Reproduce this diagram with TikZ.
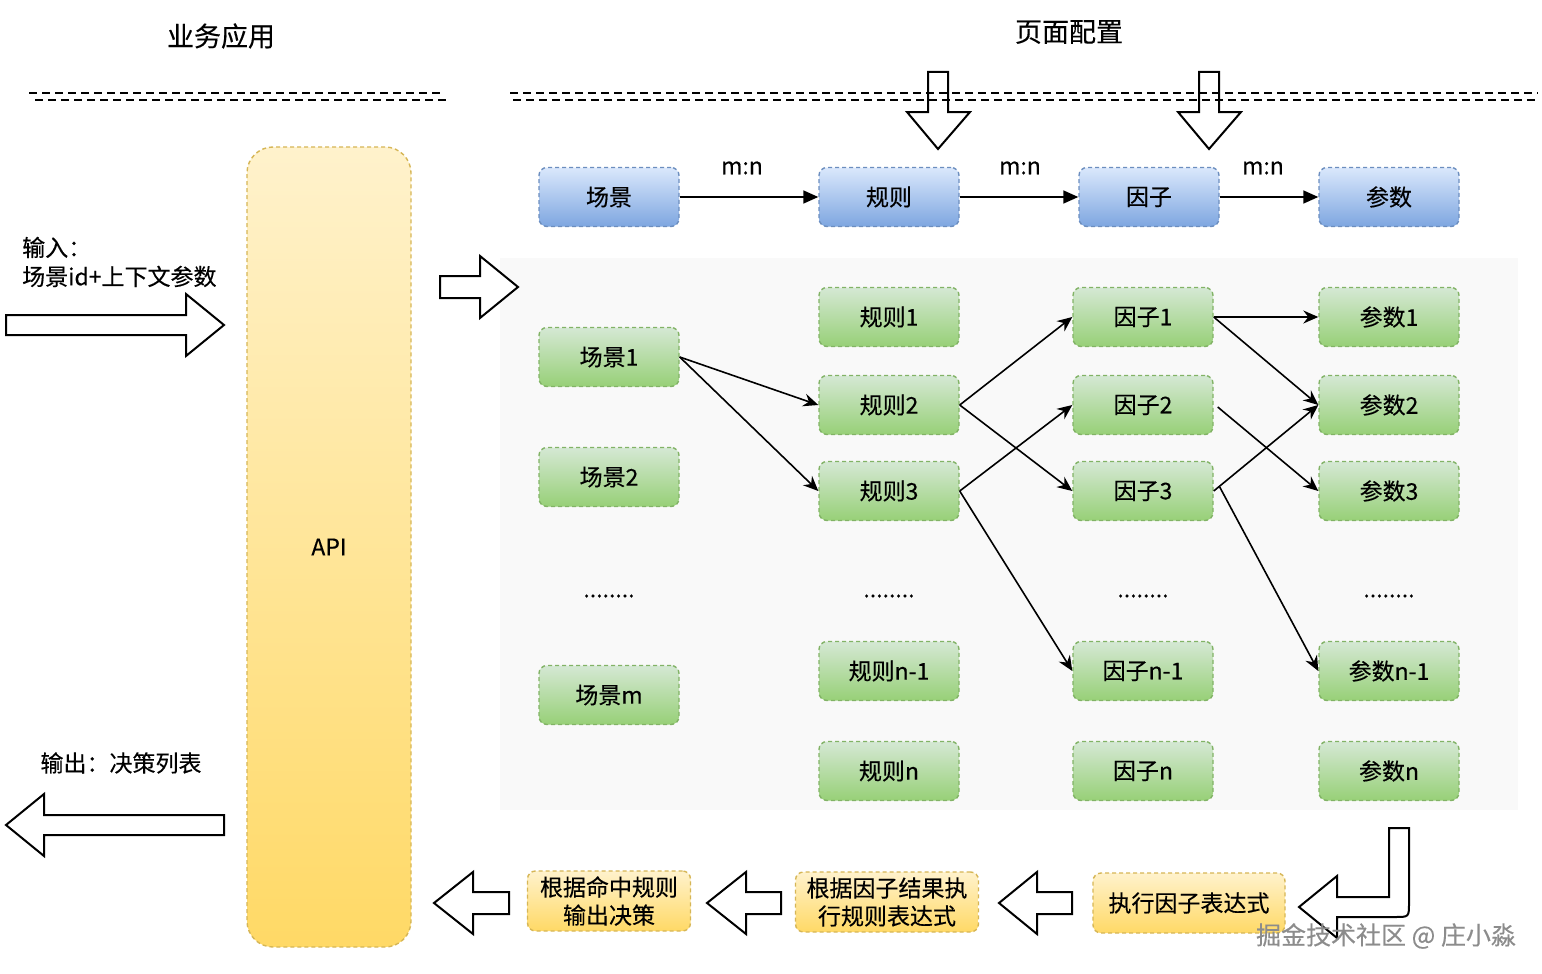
\documentclass[tikz,border=0pt]{standalone}
\usepackage{fontspec}
\setmainfont{Noto Sans CJK SC}[FakeBold=0.3]
\usetikzlibrary{arrows.meta}
\definecolor{bluetop}{HTML}{DAE8FC}
\definecolor{bluebot}{HTML}{7EA6E0}
\definecolor{blueline}{HTML}{6C8EBF}
\definecolor{greentop}{HTML}{D5E8D4}
\definecolor{greenbot}{HTML}{97D077}
\definecolor{greenline}{HTML}{82B366}
\definecolor{yeltop}{HTML}{FFF2CC}
\definecolor{yelbot}{HTML}{FFD966}
\definecolor{yelline}{HTML}{D6B656}
\definecolor{bgpanel}{HTML}{F9F9F9}
\definecolor{wmark}{HTML}{8C8C8C}
\tikzset{
  box/.style={draw, dash pattern=on 4pt off 3pt, line width=1.4pt, rounded corners=8pt,
    minimum width=140pt, minimum height=59pt, inner sep=0pt,
    font=\fontsize{23}{28}\selectfont, align=center},
  bluebox/.style={box, draw=blueline, top color=bluetop, bottom color=bluebot},
  greenbox/.style={box, draw=greenline, top color=greentop, bottom color=greenbot},
  yelbox/.style={box, draw=yelline, top color=yeltop, bottom color=yelbot},
  txt/.style={font=\fontsize{23}{29}\selectfont, inner sep=0pt},
  conn/.style={line width=1.6pt, -{Stealth[length=15pt,width=13pt,inset=5pt]}},
  flow/.style={line width=1.6pt, -{Triangle[length=15pt,width=13pt]}},
  blockarrow/.style={draw=black, line width=2pt, line join=miter},
  sepline/.style={draw=black, line width=1.8pt, dash pattern=on 8pt off 5pt}
}
\begin{document}
\begin{tikzpicture}[x=1pt,y=-1pt]
\useasboundingbox (0,0) rectangle (1542,974);
\fill[white] (0,0) rectangle (1542,974);
% panel
\fill[bgpanel] (500,258) rectangle (1518,810);
% headings
\node[font=\fontsize{27}{32}\selectfont, inner sep=0pt] (t1) at (221,36) {业务应用};
\node[font=\fontsize{27}{32}\selectfont, inner sep=0pt] (t2) at (1069,32) {页面配置};
% separators
\draw[sepline] (29,93) -- (444,93);
\draw[sepline] (35,100) -- (448,100);
\draw[sepline] (510,93) -- (1538,93);
\draw[sepline] (513,100) -- (1538,100);
% down block arrows
\draw[blockarrow] (928,72) -- (948,72) -- (948,112) -- (970,112) -- (938,149) -- (907,112) -- (928,112) -- cycle;
\draw[blockarrow] (1199,72) -- (1219,72) -- (1219,112) -- (1241,112) -- (1209,149) -- (1178,112) -- (1199,112) -- cycle;
% API
\node[yelbox, minimum width=164pt, minimum height=800pt, rounded corners=26pt] (api) at (329,547) {API};
% input / output
\node[txt, align=left, anchor=west] (inlbl) at (22,262) {输入：\\场景id+上下文参数};
\draw[blockarrow, fill=white] (6,315) -- (186,315) -- (186,294) -- (224,325) -- (186,356) -- (186,335) -- (6,335) -- cycle;
\node[txt] (outlbl) at (121,763) {输出：决策列表};
\draw[blockarrow, fill=white] (224,815) -- (44,815) -- (44,794) -- (6,825) -- (44,856) -- (44,835) -- (224,835) -- cycle;
% small right arrow
\draw[blockarrow, fill=white] (440,276) -- (480,276) -- (480,256) -- (518,287) -- (480,318) -- (480,298) -- (440,298) -- cycle;
% top row
\node[bluebox] (sc) at (609,197) {场景};
\node[bluebox] (ru) at (889,197) {规则};
\node[bluebox] (fa) at (1149,197) {因子};
\node[bluebox] (pa) at (1389,197) {参数};
\draw[flow] (sc.east) -- (ru.west);
\draw[flow] (ru.east) -- (fa.west);
\draw[flow] (fa.east) -- (pa.west);
\node[txt] (mn1) at (742,168) {m:n};
\node[txt] (mn2) at (1020,168) {m:n};
\node[txt] (mn3) at (1263,168) {m:n};
% scenes
\node[greenbox] (s1) at (609,357) {场景1};
\node[greenbox] (s2) at (609,477) {场景2};
\node[txt] (sd) at (609,596) {........};
\node[greenbox] (sm) at (609,695) {场景m};
% rules
\node[greenbox] (r1) at (889,317) {规则1};
\node[greenbox] (r2) at (889,405) {规则2};
\node[greenbox] (r3) at (889,491) {规则3};
\node[txt] (rd) at (889,596) {........};
\node[greenbox] (rn1) at (889,671) {规则n-1};
\node[greenbox] (rn) at (889,771) {规则n};
% factors
\node[greenbox] (f1) at (1143,317) {因子1};
\node[greenbox] (f2) at (1143,405) {因子2};
\node[greenbox] (f3) at (1143,491) {因子3};
\node[txt] (fd) at (1143,596) {........};
\node[greenbox] (fn1) at (1143,671) {因子n-1};
\node[greenbox] (fn) at (1143,771) {因子n};
% params
\node[greenbox] (p1) at (1389,317) {参数1};
\node[greenbox] (p2) at (1389,405) {参数2};
\node[greenbox] (p3) at (1389,491) {参数3};
\node[txt] (pd) at (1389,596) {........};
\node[greenbox] (pn1) at (1389,671) {参数n-1};
\node[greenbox] (pn) at (1389,771) {参数n};
% connectors
\draw[conn] (s1.east) -- (r2.west);
\draw[conn] (s1.east) -- (r3.west);
\draw[conn] (r2.east) -- (f1.west);
\draw[conn] (r2.east) -- (f3.west);
\draw[conn] (r3.east) -- (f2.west);
\draw[conn] (r3.east) -- (fn1.west);
\draw[conn] (f1.east) -- (p1.west);
\draw[conn] (f1.east) -- (p2.west);
\draw[conn] ([xshift=4pt,yshift=-2pt]f2.east) -- (p3.west);
\draw[conn] (f3.east) -- (p2.west);
\draw[conn] ([xshift=6pt,yshift=4pt]f3.east) -- (pn1.west);
% bottom flow
\node[yelbox, minimum width=192pt, minimum height=60pt] (ex) at (1189,903) {执行因子表达式};
\node[yelbox, minimum width=183pt, minimum height=60pt] (er) at (887,902) {根据因子结果执\\行规则表达式};
\node[yelbox, minimum width=163pt, minimum height=60pt] (od) at (609,901) {根据命中规则\\输出决策};
\draw[blockarrow, fill=white] (1299,907) -- (1337,876) -- (1337,897) -- (1389,897) -- (1389,828) -- (1409,828) -- (1409,903) .. controls (1409,917) .. (1395,917) -- (1337,917) -- (1337,938) -- cycle;
\draw[blockarrow, fill=white] (1072,892) -- (1037,892) -- (1037,872) -- (999,903) -- (1037,934) -- (1037,914) -- (1072,914) -- cycle;
\draw[blockarrow, fill=white] (781,892) -- (746,892) -- (746,872) -- (707,903) -- (746,934) -- (746,914) -- (781,914) -- cycle;
\draw[blockarrow, fill=white] (509,892) -- (473,892) -- (473,872) -- (434,903) -- (473,934) -- (473,914) -- (509,914) -- cycle;
% watermark
\node[font=\fontsize{25}{30}\selectfont, text=wmark, inner sep=0pt] (wm) at (1386,936) {掘金技术社区 @ 庄小淼};
\end{tikzpicture}
\end{document}
